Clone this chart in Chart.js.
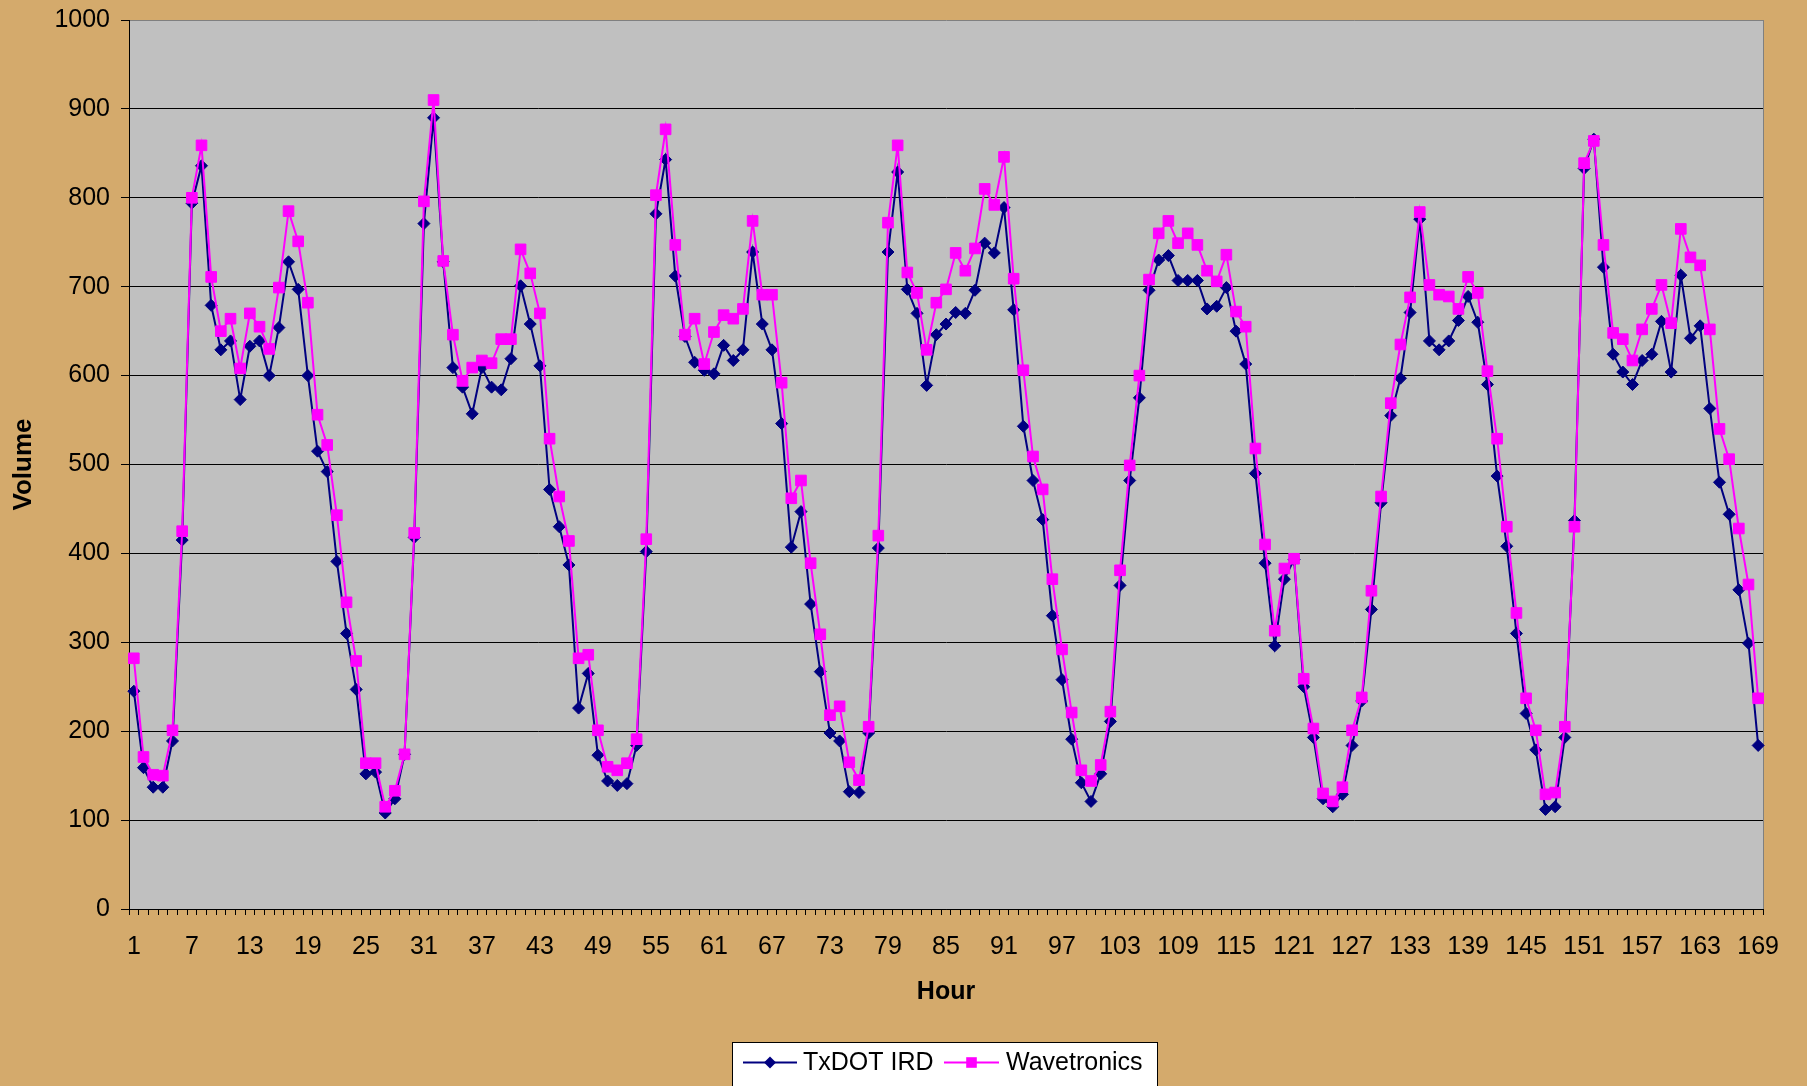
<!DOCTYPE html>
<html>
<head>
<meta charset="utf-8">
<script src="https://cdn.jsdelivr.net/npm/chart.js@4/dist/chart.umd.min.js"></script>
<style>
  html, body { margin: 0; padding: 0; background: #D4AA6C; }
  canvas { display: block; }
</style>
</head>
<body>
<canvas id="c" width="1807" height="1086"></canvas>
<script>
// Hourly traffic volume over one week, two detectors
const hours = Array.from({ length: 169 }, (_, i) => i + 1);
const labeledHours = [1, 7, 13, 19, 25, 31, 37, 43, 49, 55, 61, 67, 73, 79, 85, 91, 97, 103, 109, 115, 121, 127, 133, 139, 145, 151, 157, 163, 169];

const txdotIRD = [
  245, 159, 137, 137, 189, 415, 794, 836, 679, 629,
  639, 573, 633, 639, 600, 654, 728, 697, 600, 515,
  492, 391, 310, 247, 152, 154, 108, 124, 174, 418,
  771, 890, 728, 609, 587, 557, 609, 587, 584, 619,
  701, 658, 611, 472, 430, 387, 226, 265, 173, 144,
  139, 141, 184, 402, 782, 843, 712, 644, 615, 606,
  602, 634, 617, 629, 739, 658, 629, 546, 407, 447,
  343, 267, 198, 189, 132, 131, 198, 406, 739, 829,
  697, 670, 589, 646, 658, 671, 670, 696, 749, 738,
  789, 674, 543, 482, 438, 330, 258, 191, 142, 121,
  152, 211, 364, 482, 575, 696, 730, 735, 707, 707,
  707, 675, 678, 699, 650, 613, 490, 389, 296, 371,
  393, 250, 193, 124, 115, 129, 184, 234, 337, 457,
  555, 597, 671, 776, 639, 629, 639, 662, 689, 660,
  590, 487, 408, 310, 220, 179, 112, 115, 193, 437,
  833, 866, 722, 624, 604, 590, 617, 624, 661, 604,
  713, 642, 656, 563, 480, 444, 359, 299, 184
];

const wavetronics = [
  282, 171, 151, 150, 201, 425, 800, 859, 711, 650,
  664, 608, 670, 655, 630, 699, 785, 751, 682, 556,
  522, 443, 345, 279, 164, 164, 115, 133, 174, 423,
  796, 910, 729, 646, 594, 609, 617, 614, 641, 641,
  742, 715, 670, 529, 464, 414, 282, 286, 201, 160,
  156, 164, 191, 416, 803, 877, 747, 646, 664, 613,
  649, 668, 664, 675, 774, 691, 691, 592, 462, 482,
  389, 309, 218, 228, 165, 145, 205, 420, 772, 859,
  716, 693, 629, 682, 697, 738, 718, 743, 810, 792,
  846, 709, 606, 509, 472, 371, 292, 221, 156, 144,
  162, 222, 381, 499, 600, 708, 760, 774, 749, 760,
  747, 718, 706, 736, 672, 655, 518, 410, 313, 383,
  394, 259, 203, 130, 121, 137, 201, 238, 358, 464,
  569, 635, 688, 784, 702, 691, 689, 675, 711, 693,
  605, 529, 430, 333, 237, 201, 129, 131, 205, 430,
  839, 864, 747, 648, 641, 617, 652, 675, 702, 659,
  765, 733, 724, 652, 540, 506, 428, 365, 237
];

const FONT = '"Liberation Sans", Arial, sans-serif';
const PAGE_BG = '#D4AA6C';
const PLOT_BG = '#C0C0C0';
const NAVY = '#000080';
const MAGENTA = '#FF00FF';

// Page and plot backgrounds, plus the grey frame on the right side
const frame = {
  id: 'frame',
  beforeDraw(chart) {
    const { ctx, chartArea: a } = chart;
    ctx.save();
    ctx.fillStyle = PAGE_BG;
    ctx.fillRect(0, 0, chart.width, chart.height);
    ctx.fillStyle = PLOT_BG;
    ctx.fillRect(a.left, a.top, a.right - a.left, a.bottom - a.top);
    ctx.restore();
  },
  beforeDatasetsDraw(chart) {
    const { ctx, chartArea: a } = chart;
    ctx.save();
    ctx.strokeStyle = '#808080';
    ctx.lineWidth = 1;
    ctx.beginPath();
    ctx.moveTo(Math.round(a.right) + 0.5, a.top);
    ctx.lineTo(Math.round(a.right) + 0.5, a.bottom);
    ctx.stroke();
    ctx.restore();
  }
};

// Boxed legend below the axis title, line + marker per series
const boxLegend = {
  id: 'boxLegend',
  afterDraw(chart) {
    const { ctx } = chart;
    const y = 1062.5;
    ctx.save();
    ctx.fillStyle = '#FFFFFF';
    ctx.fillRect(732.5, 1042.5, 425, 60);
    ctx.strokeStyle = '#000000';
    ctx.lineWidth = 1;
    ctx.strokeRect(732.5, 1042.5, 425, 60);

    const items = [
      { ds: chart.data.datasets[0], x0: 743, x1: 797, tx: 803 },
      { ds: chart.data.datasets[1], x0: 944, x1: 999, tx: 1006 }
    ];
    items.forEach(it => {
      const cx = (it.x0 + it.x1) / 2;
      ctx.strokeStyle = it.ds.borderColor;
      ctx.lineWidth = 2;
      ctx.beginPath();
      ctx.moveTo(it.x0, y);
      ctx.lineTo(it.x1, y);
      ctx.stroke();
      ctx.fillStyle = it.ds.pointBackgroundColor;
      ctx.beginPath();
      if (it.ds.pointStyle === 'rectRot') {
        const r = it.ds.pointRadius;
        ctx.moveTo(cx, y - r);
        ctx.lineTo(cx + r, y);
        ctx.lineTo(cx, y + r);
        ctx.lineTo(cx - r, y);
        ctx.closePath();
      } else {
        const h = it.ds.pointRadius * Math.SQRT1_2;
        ctx.rect(cx - h, y - h, 2 * h, 2 * h);
      }
      ctx.fill();
      ctx.fillStyle = '#000000';
      ctx.font = '25px ' + FONT;
      ctx.textBaseline = 'middle';
      ctx.textAlign = 'left';
      ctx.fillText(it.ds.label, it.tx, y + 1);
    });
    ctx.restore();
  }
};

Chart.defaults.color = '#000000';
Chart.defaults.font.family = FONT;

new Chart(document.getElementById('c'), {
  type: 'line',
  data: {
    labels: hours,
    datasets: [
      {
        label: 'TxDOT IRD',
        data: txdotIRD,
        borderColor: NAVY,
        backgroundColor: NAVY,
        pointBackgroundColor: NAVY,
        pointBorderColor: NAVY,
        pointBorderWidth: 1,
        pointStyle: 'rectRot',
        pointRadius: 6,
        borderWidth: 2,
        tension: 0,
        clip: false,
        order: 2
      },
      {
        label: 'Wavetronics',
        data: wavetronics,
        borderColor: MAGENTA,
        backgroundColor: MAGENTA,
        pointBackgroundColor: MAGENTA,
        pointBorderColor: MAGENTA,
        pointBorderWidth: 1,
        pointStyle: 'rect',
        pointRadius: 7.5,
        borderWidth: 2,
        tension: 0,
        clip: false,
        order: 1
      }
    ]
  },
  options: {
    responsive: false,
    animation: false,
    devicePixelRatio: 1,
    layout: { padding: { left: 0, top: 20, right: 44, bottom: 79 } },
    plugins: {
      legend: { display: false },
      tooltip: { enabled: false }
    },
    scales: {
      x: {
        type: 'category',
        offset: true,
        afterFit(scale) { scale.height = 98; },
        grid: {
          display: true,
          drawOnChartArea: false,
          drawTicks: true,
          tickLength: 6,
          offset: true,
          color: '#000000',
          tickColor: '#000000'
        },
        border: { display: true, color: '#000000', width: 1 },
        ticks: {
          autoSkip: false,
          maxRotation: 0,
          minRotation: 0,
          padding: 17,
          font: { size: 25 },
          color: '#000000',
          callback(value, index) {
            const h = hours[index];
            return labeledHours.includes(h) ? String(h) : '';
          }
        },
        title: {
          display: true,
          text: 'Hour',
          font: { size: 25, weight: 'bold' },
          color: '#000000',
          padding: { top: 0, bottom: 0 }
        }
      },
      y: {
        min: 0,
        max: 1000,
        afterFit(scale) {
          scale.width = 129;
          scale.paddingTop = 0;
          scale.paddingBottom = 0;
        },
        grid: {
          color: (c) => (c.tick && c.tick.value === 1000 ? '#808080' : '#000000'),
          tickColor: '#000000',
          tickLength: 8,
          lineWidth: 1
        },
        border: { display: true, color: '#000000', width: 1 },
        ticks: {
          stepSize: 100,
          padding: 11,
          font: { size: 25 },
          color: '#000000',
          callback: (v) => String(v)
        },
        title: {
          display: true,
          text: 'Volume',
          font: { size: 26, weight: 'bold' },
          color: '#000000',
          padding: { top: 8, bottom: 0 }
        }
      }
    }
  },
  plugins: [frame, boxLegend]
});
</script>
</body>
</html>
